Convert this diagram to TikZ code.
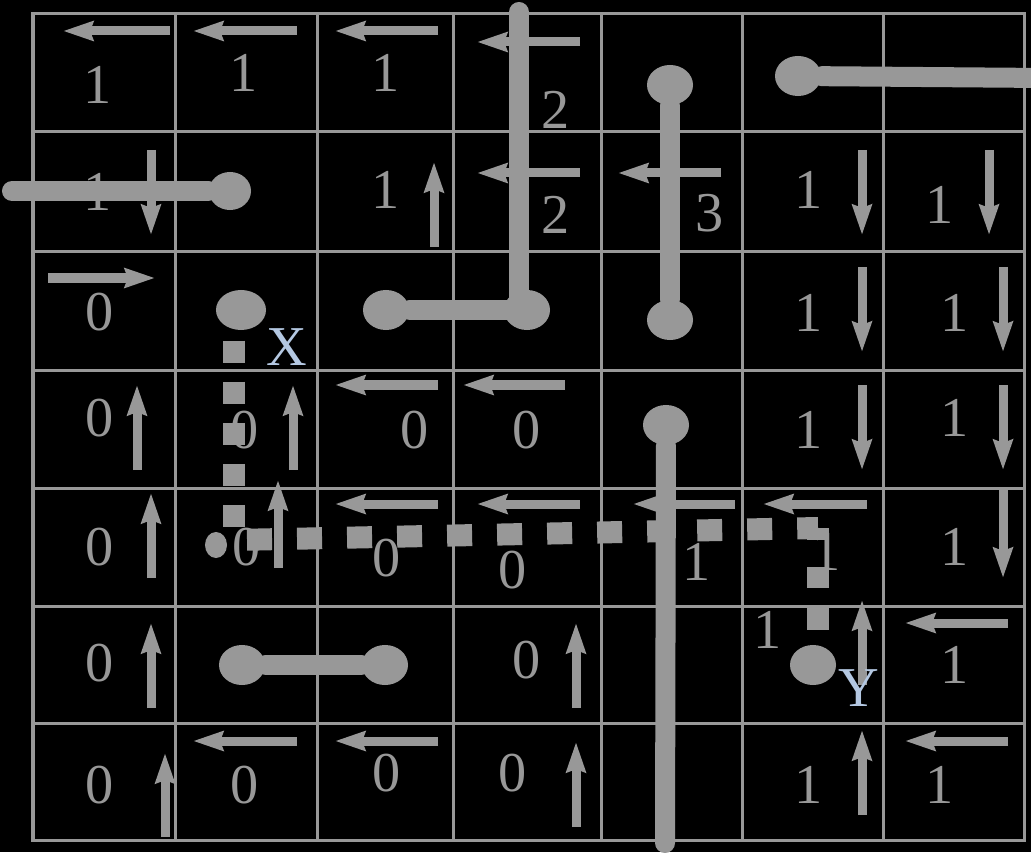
\documentclass[tikz,border=0pt]{standalone}
\usepackage{fontspec}
\setmainfont{Liberation Serif}
\usetikzlibrary{arrows.meta,shapes.geometric}
\definecolor{cellgray}{HTML}{989898}
\definecolor{marklabel}{HTML}{B4C8E2}
\tikzset{
  gridline/.style={draw=cellgray,line width=0.03cm},
  cellnum/.style={inner sep=0pt,text=cellgray,font=\fontsize{16}{18}\selectfont},
  marktext/.style={inner sep=0pt,text=marklabel,font=\fontsize{16}{18}\selectfont},
  cellarrow/.style={-{Stealth[length=0.3cm,width=0.19cm,inset=0.03cm]},line width=0.09cm,draw=cellgray},
  wall/.style={line width=0.2cm,draw=cellgray,line cap=round},
  walldot/.style={ellipse,fill=cellgray,inner sep=0pt,minimum width=0.46cm,minimum height=0.4cm},
  route/.style={line width=0.22cm,draw=cellgray}
}
\begin{document}
\begin{tikzpicture}[x=0.01cm,y=-0.01cm]
  \useasboundingbox (0,0) rectangle (1031,852);
  \fill[black] (0,0) rectangle (1031,852);
  % grid
  \foreach \gx in {33,175,317,453,601,742,883,1024}
    \draw[gridline] (\gx,14) -- (\gx,840);
  \foreach \gy in {14,132,252,370,488,606,723,840}
    \draw[gridline] (33,\gy) -- (1024,\gy);
  \draw[gridline] (33,14) rectangle (1024,840);
  % cell values
  \foreach \nx/\ny/\nv [count=\k] in {
      98/85/1, 244/73/1, 386/73/1, 556/110/2,
      98/192/1, 386/190/1, 556/215/2, 710/213/3, 809/190/1, 940/205/1,
      100/312/0, 809/313/1, 955/313/1,
      100/418/0, 245/430/0, 415/430/0, 527/430/0, 809/430/1, 955/418/1,
      100/547/0, 247/547/0, 387/558/0, 513/570/0, 697/562/1, 827/552/1, 955/547/1,
      100/663/0, 527/660/0, 768/630/1, 955/665/1,
      100/785/0, 245/785/0, 387/773/0, 513/773/0, 809/785/1, 940/785/1}
    \node[cellnum] (d\k) at (\nx,\ny) {\nv};
  % directions
  \foreach \ax/\ay/\bx/\by in {
      170/31/63/31, 297/31/193/31, 438/31/335/31, 580/42/477/42,
      580/173/477/173, 721/173/618/173,
      438/385/335/385, 565/385/463/385,
      438/504/335/504, 580/504/477/504, 735/504/633/504, 867/504/763/504,
      1008/623/905/623,
      297/741/193/741, 438/741/335/741, 1008/741/905/741,
      48/278/155/278,
      151/150/151/235, 862/150/862/235, 989/150/989/235,
      862/267/862/352, 1003/267/1003/352,
      862/385/862/470, 1003/385/1003/470,
      1003/490/1003/578,
      434/247/434/162,
      137/470/137/385, 293/470/293/385,
      151/578/151/493, 278/568/278/480,
      151/708/151/623, 576/708/576/623, 862/685/862/600,
      165/837/165/753, 576/827/576/742, 862/815/862/730}
    \draw[cellarrow] (\ax,\ay) -- (\bx,\by);
  % walls
  \node[walldot, minimum width=0.42cm, minimum height=0.38cm] (wa) at (230,191) {};
  \node[walldot] (wb) at (386,310) {};
  \node[walldot] (wc) at (527,310) {};
  \node[walldot] (wd) at (798,76) {};
  \node[walldot] (we) at (670,85) {};
  \node[walldot] (wf) at (670,320) {};
  \node[walldot] (wg) at (666,425) {};
  \node[walldot] (wh) at (242,665) {};
  \node[walldot] (wi) at (385,665) {};
  \coordinate (w1top) at (519,12);
  \coordinate (w2end) at (12,191);
  \coordinate (w3end) at (1045,78);
  \coordinate (w5end) at (665,843);
  \draw[wall] (w1top) -- (w1top |- wc) -- (wb);
  \draw[wall] (w2end) -- (wa);
  \draw[wall] (wd) -- (w3end);
  \draw[wall] (we) -- (wf);
  \draw[wall] (wg) -- (w5end);
  \draw[wall] (wh) -- (wi);
  % route from X to Y
  \node[walldot, minimum width=0.5cm] (xdot) at (241,310) {};
  \node[walldot] (ydot) at (813,665) {};
  \node[walldot, minimum width=0.22cm, minimum height=0.26cm] (bendblob) at (216,545) {};
  \coordinate (r1) at (234,540);
  \coordinate (r2) at (818,528);
  \draw[route, dash pattern=on 0.22cm off 0.19cm, dash phase=0.31cm] (xdot.south -| r1) -- (r1);
  \draw[route, dash pattern=on 0.25cm off 0.25cm, dash phase=0.37cm] (r1) -- (r2);
  \draw[route, dash pattern=on 0.12cm off 0.27cm on 0.21cm off 0.2cm on 0.22cm off 0.5cm] (r2) -- (ydot.north -| r2);
  \node[marktext] (xlabel) at (287,347) {X};
  \node[marktext] (ylabel) at (859,688) {Y};
\end{tikzpicture}
\end{document}
